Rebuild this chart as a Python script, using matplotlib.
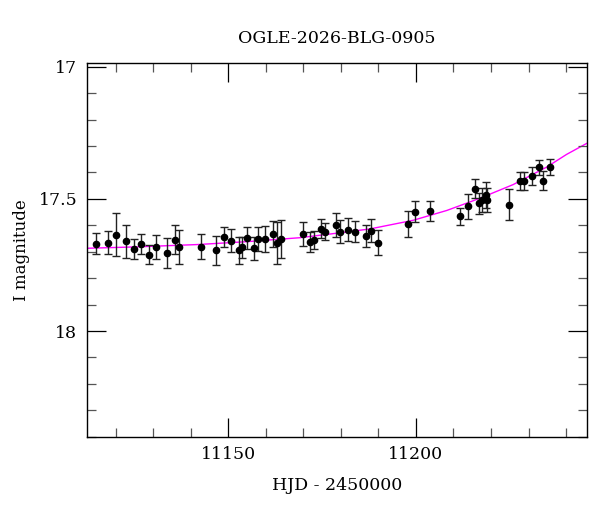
import matplotlib
matplotlib.use("Agg")
import matplotlib.pyplot as plt
from matplotlib.ticker import MultipleLocator

# Observations (HJD - 2450000, I mag, error)
hjd = [11114.9, 11117.9, 11120.0, 11122.9, 11125.0, 11126.9, 11128.9, 11130.9,
       11133.75, 11135.9, 11136.8, 11142.8, 11146.8, 11148.8, 11150.8, 11152.8,
       11153.7, 11154.9, 11156.8, 11158.0, 11159.9, 11161.8, 11163.0, 11164.0,
       11170.0, 11171.8, 11172.9, 11174.7, 11175.9, 11178.7, 11179.8, 11182.0,
       11183.8, 11186.7, 11188.0, 11189.8, 11197.9, 11199.7, 11203.7, 11211.7,
       11213.9, 11215.7, 11216.7, 11217.7, 11218.6, 11219.0, 11224.9, 11227.8,
       11228.8, 11230.9, 11232.8, 11233.9, 11235.6]
mag = [17.669, 17.666, 17.636, 17.661, 17.689, 17.670, 17.711, 17.682,
       17.706, 17.654, 17.682, 17.681, 17.695, 17.643, 17.658, 17.695,
       17.683, 17.647, 17.687, 17.652, 17.652, 17.633, 17.667, 17.652,
       17.634, 17.664, 17.655, 17.614, 17.624, 17.600, 17.624, 17.617,
       17.624, 17.640, 17.620, 17.666, 17.595, 17.548, 17.545, 17.566,
       17.528, 17.461, 17.516, 17.505, 17.485, 17.504, 17.522, 17.433,
       17.433, 17.413, 17.381, 17.431, 17.379]
err = [0.039, 0.043, 0.081, 0.062, 0.038, 0.038, 0.037, 0.045,
       0.056, 0.054, 0.064, 0.047, 0.055, 0.038, 0.044, 0.050,
       0.040, 0.041, 0.044, 0.044, 0.050, 0.048, 0.079, 0.072,
       0.046, 0.038, 0.035, 0.036, 0.032, 0.046, 0.044, 0.044,
       0.040, 0.042, 0.045, 0.048, 0.048, 0.039, 0.037, 0.032,
       0.047, 0.037, 0.040, 0.045, 0.049, 0.045, 0.059, 0.035,
       0.035, 0.034, 0.029, 0.037, 0.029]

# Model curve
model_hjd = [11112.4, 11125.0, 11141.7, 11155.0, 11169.1, 11177.2, 11187.7,
             11199.3, 11208.2, 11217.0, 11225.9, 11234.8, 11240.1, 11245.5]
model_mag = [17.687, 17.682, 17.673, 17.662, 17.647, 17.633, 17.614,
             17.581, 17.544, 17.498, 17.446, 17.380, 17.332, 17.290]

title = "OGLE-2026-BLG-0905"
xlabel = "HJD - 2450000"
ylabel = "I magnitude"

plt.rcParams['font.family'] = ['DejaVu Serif']
fig = plt.figure(figsize=(6.0, 5.12), dpi=100)
ax = fig.add_axes([0.145, 0.147, 0.833, 0.7305])

ax.plot(model_hjd, model_mag, color='#ff00ff', lw=1.0, zorder=1)
ax.errorbar(hjd, mag, yerr=err, fmt='o', color='black', ms=4.5,
            ecolor='#222222', elinewidth=1.0, capsize=2.9, capthick=1.0, zorder=2)

ax.set_xlim(11112.4, 11245.5)
ax.set_ylim(18.40, 16.985)
ax.xaxis.set_major_locator(MultipleLocator(50))
ax.xaxis.set_minor_locator(MultipleLocator(10))
ax.yaxis.set_major_locator(MultipleLocator(0.5))
ax.yaxis.set_minor_locator(MultipleLocator(0.1))
ax.yaxis.set_major_formatter(matplotlib.ticker.FuncFormatter(lambda v, p: f"{v:g}"))
ax.tick_params(which='both', direction='in', top=True, right=True, width=0.9,
               labelsize=12.5)
ax.tick_params(which='major', length=13.7, pad=7)
ax.tick_params(which='minor', length=6.8, color='#555555')
for s in ax.spines.values():
    s.set_linewidth(1.0)

ax.set_title(title, fontsize=12.5, pad=14)
ax.set_xlabel(xlabel, fontsize=12.5, labelpad=10)
ax.set_ylabel(ylabel, fontsize=12, labelpad=6)

fig.savefig("out.png", dpi=100)
